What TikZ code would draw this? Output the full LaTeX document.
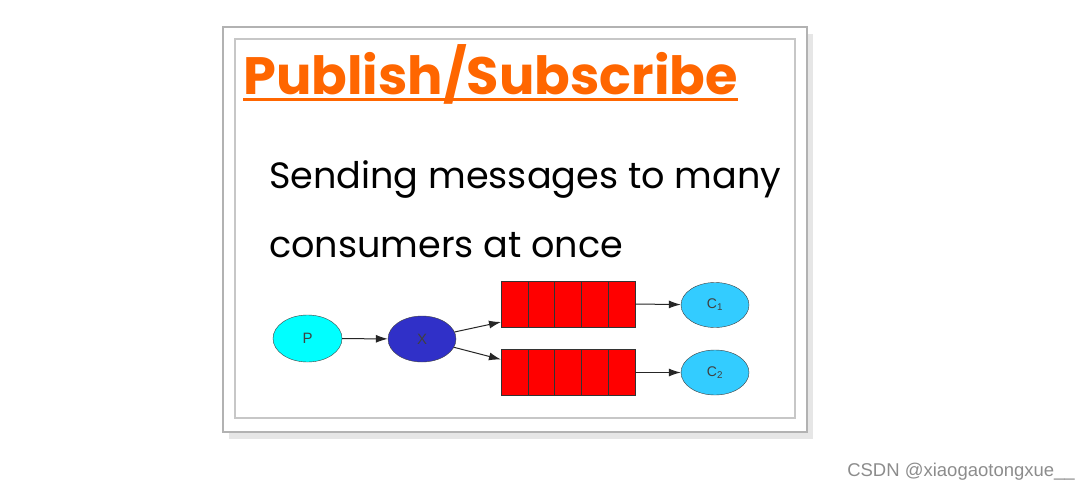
\documentclass[tikz,border=0pt]{standalone}
\usepackage{fontspec}
\setmainfont{Poppins}
\newfontfamily\diagfont{Liberation Sans}
\usetikzlibrary{shapes}
\usetikzlibrary{shadows}
\usetikzlibrary{positioning}
\usetikzlibrary{arrows.meta}
\definecolor{titleorange}{HTML}{FF6600}
\definecolor{pcyan}{HTML}{00FFFF}
\definecolor{xblue}{HTML}{3030C8}
\definecolor{cblue}{HTML}{33CCFF}
\tikzset{
    mynodep/.style = {ellipse, draw=black!75, fill=pcyan, minimum width=69pt, minimum height=47pt, font=\diagfont\fontsize{15}{15}\selectfont, text=black!75},
    mynodex/.style = {ellipse, draw=black!75, fill=xblue, minimum width=68pt, minimum height=46pt, font=\diagfont\fontsize{15}{15}\selectfont, text=black!75},
    mynodec/.style = {ellipse, draw=black!75, fill=cblue, minimum width=68pt, minimum height=45pt, font=\diagfont\fontsize{14}{14}\selectfont, text=black!75},
    mycell/.style = {rectangle, draw=black!80, fill=red, minimum width=26.8pt, minimum height=46pt, inner sep=0pt, outer sep=0pt},
    edgen/.style = {-{Latex[length=12pt,width=8pt]}, black!85, line width=1pt},
    myframe/.style = {draw=black!30, line width=1.2pt},
}

\begin{document}
\begin{tikzpicture}[x=1pt,y=-1pt]
  \useasboundingbox (0,0) rectangle (1091,489);
  % frames
  \draw[myframe, fill=white, drop shadow={shadow xshift=6pt, shadow yshift=-7pt, opacity=0.2}] (223,27) rectangle (807,432);
  \draw[myframe, draw=black!22] (235,39) rectangle (795,418);
  % title and text
  \node[anchor=base west, inner sep=0pt, text=titleorange, font=\bfseries\fontsize{52.6}{52.6}\selectfont] (title) at (243,95) {Publish/Subscribe};
  \draw[titleorange, line width=3pt] (title.base west) ++(0,5) coordinate (ul) -- (ul -| title.east);
  \node[anchor=base west, inner sep=0pt, font=\fontsize{36.6}{36.6}\selectfont] (line1) at (269,188) {Sending messages to many};
  \node[anchor=base west, inner sep=0pt, font=\fontsize{36.6}{36.6}\selectfont] (line2) at (269,257) {consumers at once};
  % diagram
  \node[mynodep] (p) at (307.5,338.5) {P};
  \node[mynodex] (x) at (422,339) {X};
  \foreach \i in {1,...,5} {
    \node[mycell] (qa\i) at ({501+26.8*(\i-0.5)},304) {};
    \node[mycell] (qb\i) at ({501+26.8*(\i-0.5)},372.5) {};
  }
  \node[mynodec] (c1) at (715,305) {C\textsubscript{1}};
  \node[mynodec] (c2) at (715,372.5) {C\textsubscript{2}};
  \draw[edgen] (p) -- (x);
  \draw[edgen] (x) -- ([yshift=5pt]qa1.south west);
  \draw[edgen] (x) -- ([yshift=-10pt]qb1.north west);
  \draw[edgen] (qa5.east) -- (c1);
  \draw[edgen] (qb5.east) -- (c2);
  % watermark
  \node[anchor=base east, inner sep=0pt, text=black!45, font=\diagfont\fontsize{18.5}{18.5}\selectfont] (mark) at (1075,476) {CSDN @xiaogaotongxue\_\_};
\end{tikzpicture}
\end{document}
